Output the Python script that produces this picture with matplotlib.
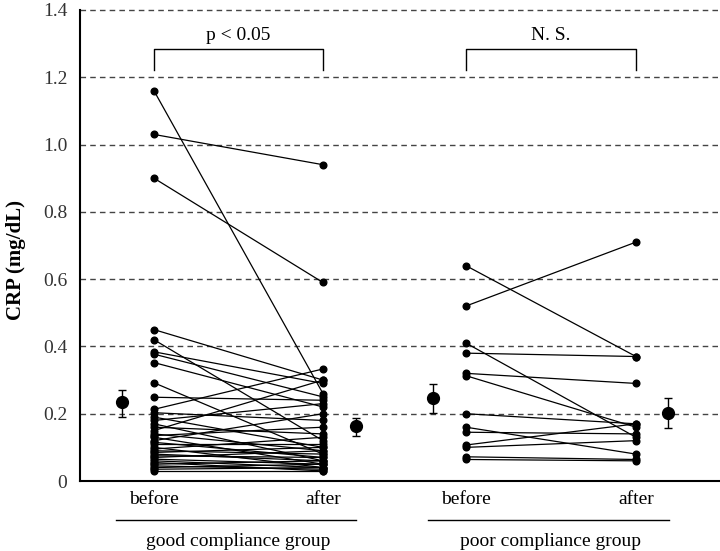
import matplotlib.pyplot as plt
from matplotlib.transforms import blended_transform_factory

plt.rcParams['font.family'] = ['Liberation Serif', 'DejaVu Serif']

# CRP values (mg/dL), one entry per patient, before -> after
good_before = [1.16, 1.03, 0.90, 0.45, 0.42, 0.384, 0.377, 0.352, 0.292, 0.249,
               0.213, 0.203, 0.19, 0.18, 0.17, 0.16, 0.15, 0.14, 0.135, 0.13,
               0.12, 0.115, 0.11, 0.10, 0.095, 0.09, 0.085, 0.08, 0.075, 0.07,
               0.065, 0.06, 0.055, 0.05, 0.045, 0.04, 0.035, 0.03]
good_after = [0.26, 0.94, 0.59, 0.30, 0.12, 0.29, 0.25, 0.22, 0.08, 0.24,
              0.333, 0.18, 0.10, 0.23, 0.06, 0.14, 0.30, 0.09, 0.16, 0.05,
              0.20, 0.07, 0.11, 0.04, 0.13, 0.08, 0.10, 0.06, 0.07, 0.09,
              0.05, 0.04, 0.03, 0.06, 0.035, 0.05, 0.04, 0.03]

poor_before = [0.64, 0.52, 0.41, 0.38, 0.32, 0.313, 0.20, 0.16, 0.145, 0.107,
               0.10, 0.072, 0.064]
poor_after = [0.37, 0.71, 0.13, 0.37, 0.29, 0.16, 0.17, 0.08, 0.14, 0.17,
              0.12, 0.064, 0.06]

# group means with error bar ends: before, after
good_mean = [0.234, 0.163]
good_lo = [0.191, 0.135]
good_hi = [0.270, 0.186]
poor_mean = [0.246, 0.202]
poor_lo = [0.201, 0.157]
poor_hi = [0.288, 0.248]

tick_labels = ['before', 'after', 'before', 'after']
group_labels = ['good compliance group', 'poor compliance group']
p_labels = ['p < 0.05', 'N. S.']

# x layout
x_pts = [154, 323, 466, 636]
x_means = [122, 356, 433, 668]

fig = plt.figure(figsize=(7.2, 5.51), dpi=100)
ax = fig.add_axes([0.111, 0.127, 0.889, 0.855])
ax.set_xlim(80, 720)
ax.set_ylim(0, 1.4)

for y in [0.2, 0.4, 0.6, 0.8, 1.0, 1.2, 1.4]:
    ax.axhline(y, color='#444444', lw=1.0, ls=(0, (4, 3)), zorder=0, clip_on=False)

for b, a in zip(good_before, good_after):
    ax.plot([x_pts[0], x_pts[1]], [b, a], color='black', lw=0.9,
            marker='o', ms=4.8, zorder=2)
for b, a in zip(poor_before, poor_after):
    ax.plot([x_pts[2], x_pts[3]], [b, a], color='black', lw=0.9,
            marker='o', ms=4.8, zorder=2)

means = good_mean + poor_mean
lows = good_lo + poor_lo
highs = good_hi + poor_hi
for x, m, lo, hi in zip(x_means, means, lows, highs):
    ax.errorbar([x], [m], yerr=[[m - lo], [hi - m]], fmt='o', color='black',
                ms=8.5, elinewidth=1.0, capsize=3, capthick=1.0, zorder=3)

# significance brackets
for i, lab in enumerate(p_labels):
    x0, x1 = x_pts[2 * i], x_pts[2 * i + 1]
    ax.plot([x0, x0, x1, x1], [1.22, 1.284, 1.284, 1.22], color='black',
            lw=1.0, clip_on=False)
    ax.text((x0 + x1) / 2, 1.30, lab, ha='center', va='bottom', fontsize=14)

ax.set_yticks([0, 0.2, 0.4, 0.6, 0.8, 1.0, 1.2, 1.4])
ax.set_yticklabels(['0', '0.2', '0.4', '0.6', '0.8', '1.0', '1.2', '1.4'],
                   fontsize=14, color='#333333')
ax.tick_params(axis='y', length=0, pad=9)
ax.set_xticks([])
ax.set_ylabel('CRP (mg/dL)', fontsize=15, fontweight='bold')
ax.yaxis.set_label_coords(-0.085, 0.47)

for side in ['top', 'right']:
    ax.spines[side].set_visible(False)
ax.spines['left'].set_linewidth(1.5)
ax.spines['bottom'].set_linewidth(1.5)

# x labels below the axis
trans = blended_transform_factory(ax.transData, fig.transFigure)
for x, lab in zip(x_pts, tick_labels):
    ax.text(x, 1 - 500 / 551, lab, transform=trans, ha='center', va='center',
            fontsize=14)
for i, lab in enumerate(group_labels):
    x0, x1 = x_pts[2 * i], x_pts[2 * i + 1]
    ax.plot([x0 - 38, x1 + 33], [1 - 520 / 551] * 2, color='black', lw=1.0,
            transform=trans, clip_on=False)
    ax.text((x0 + x1) / 2, 1 - 541 / 551, lab, transform=trans, ha='center',
            va='center', fontsize=14)

fig.savefig('out.png', dpi=100)
